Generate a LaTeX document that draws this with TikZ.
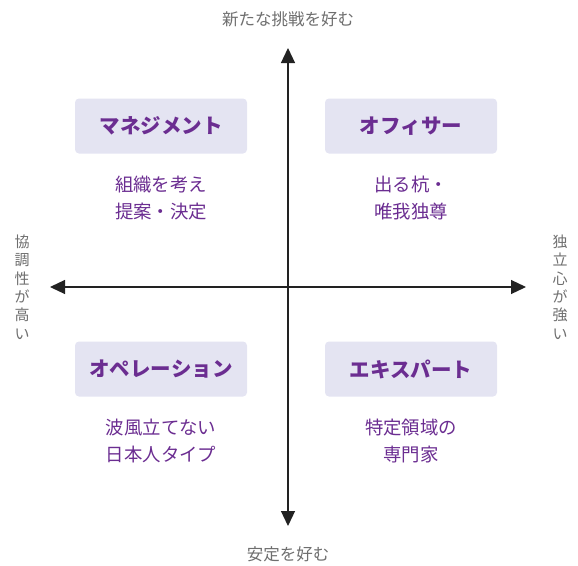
\documentclass[tikz,border=0pt]{standalone}
\usepackage{fontspec}
\setmainfont{Noto Sans CJK JP}
\usepackage{xcolor}
\usetikzlibrary{arrows.meta}
\usetikzlibrary{positioning}
\definecolor{quadpurple}{HTML}{6B2D91}
\definecolor{quadfill}{HTML}{E4E4F2}
\definecolor{axisgray}{HTML}{6E6E6E}
\definecolor{axisline}{HTML}{222222}
\tikzset{quad/.style={rectangle,rounded corners=4pt,fill=quadfill,minimum width=172pt,minimum height=55pt,text=quadpurple,font=\fontsize{20.5}{24}\selectfont\bfseries}}
\tikzset{desc/.style={align=center,inner sep=0pt,text=quadpurple,font=\fontsize{18.4}{27}\selectfont}}
\tikzset{axlabel/.style={align=center,text=axisgray,font=\fontsize{15}{18.4}\selectfont}}
\tikzset{axis/.style={draw=axisline,line width=1.2pt,{Triangle[length=15pt,width=14pt]}-{Triangle[length=15pt,width=14pt]}}}

\begin{document}
\begin{tikzpicture}[x=1pt,y=-1pt]
    \useasboundingbox (0,0) rectangle (578,565);

    \coordinate (top) at (288,48);
    \coordinate (bottom) at (288,526);
    \coordinate (left) at (50,287);
    \coordinate (right) at (526,287);

    \draw[axis] (bottom) -- (top);
    \draw[axis] (left) -- (right);

    \foreach \pos/\name/\txt in {{(161,126)/mgmt/マネジメント}, {(411,126)/officer/オフィサー}, {(161,369)/ops/オペレーション}, {(411,369)/expert/エキスパート}}
        \node[quad] (\name) at \pos {\txt};

    \node[desc, below=22pt of mgmt] (mgmtdesc) {組織を考え\\提案・決定};
    \node[desc, below=22pt of officer] (officerdesc) {出る杭・\\唯我独尊};
    \node[desc, below=22pt of ops] (opsdesc) {波風立てない\\日本人タイプ};
    \node[desc, below=22pt of expert] (expertdesc) {特定領域の\\専門家};

    \node[axlabel, font=\fontsize{16.5}{18.4}\selectfont] (toplabel) at (288,19) {新たな挑戦を好む};
    \node[axlabel, font=\fontsize{16.5}{18.4}\selectfont] (bottomlabel) at (288,554) {安定を好む};
    \node[axlabel] (leftlabel) at (22,287) {協\\調\\性\\が\\高\\い};
    \node[axlabel] (rightlabel) at (560,287) {独\\立\\心\\が\\強\\い};

\end{tikzpicture}
\end{document}
